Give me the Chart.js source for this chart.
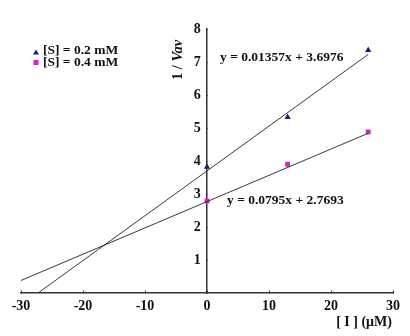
<!DOCTYPE html>
<html>
<head>
<meta charset="utf-8">
<script src="https://cdn.jsdelivr.net/npm/chart.js@4.4.0/dist/chart.umd.min.js"></script>
<style>
  html, body { margin: 0; padding: 0; background: #fff; }
  #wrap { width: 410px; height: 336px; }
</style>
</head>
<body>
<div id="wrap"><canvas id="lbChart"></canvas></div>
<script>
// inhibitor concentration [I] (µM)
const inhibitor = [0, 13, 26];
// 1 / Vav for each substrate level
const s02 = [3.82, 5.33, 7.36];
const s04 = [2.79, 3.9, 4.88];
// ends of the fitted lines, as drawn
const fit02X = [-27.25, 26];
const fit02Y = [0, 7.23];
const fit04X = [-30, 26];
const fit04Y = [0.38, 4.84];
const xTicks = [-30, -20, -10, 0, 10, 20, 30];
const yTicks = [1, 2, 3, 4, 5, 6, 7, 8];

const serif = "'Liberation Serif', 'Times New Roman', serif";
const navy = "#1c1c78";
const magenta = "#d81cd0";

const toPoints = (xs, ys) => xs.map((x, i) => ({ x: x, y: ys[i] }));

const textPlugin = {
  id: "textPlugin",
  afterDraw(chart) {
    const ctx = chart.ctx;
    ctx.save();
    ctx.fillStyle = "#111";
    ctx.textBaseline = "middle";
    ctx.font = "bold 13.5px " + serif;

    // legend
    ctx.fillStyle = navy;
    ctx.beginPath();
    ctx.moveTo(36, 49.5);
    ctx.lineTo(39, 54.5);
    ctx.lineTo(33, 54.5);
    ctx.closePath();
    ctx.fill();
    ctx.fillStyle = magenta;
    ctx.fillRect(33.5, 60, 5, 5);
    ctx.fillStyle = "#111";
    ctx.textAlign = "left";
    ctx.fillText("[S] = 0.2 mM", 43, 51);
    ctx.fillText("[S] = 0.4 mM", 43, 63);

    // equations
    ctx.fillText("y = 0.01357x + 3.6976", 220, 58);
    ctx.fillText("y = 0.0795x + 2.7693", 227, 201);

    // axis titles
    ctx.font = "bold 14px " + serif;
    ctx.textAlign = "center";
    ctx.fillText("[ I ] (\u03bcM)", 364, 322);

    ctx.translate(178, 80);
    ctx.rotate(-Math.PI / 2);
    ctx.textAlign = "left";
    ctx.font = "bold 14.5px " + serif;
    const a = "1 / ";
    ctx.fillText(a, 0, 0);
    const w = ctx.measureText(a).width;
    ctx.font = "italic bold 14.5px " + serif;
    ctx.fillText("Vav", w, 0);
    ctx.restore();
  },
};

const ctx = document.getElementById("lbChart").getContext("2d");

const lbChart = new Chart(ctx, {
  type: "scatter",
  data: {
    datasets: [
      {
        label: "fit 0.2",
        data: toPoints(fit02X, fit02Y),
        showLine: true,
        borderColor: "#222",
        borderWidth: 0.9,
        pointRadius: 0,
      },
      {
        label: "fit 0.4",
        data: toPoints(fit04X, fit04Y),
        showLine: true,
        borderColor: "#222",
        borderWidth: 0.9,
        pointRadius: 0,
      },
      {
        label: "[S] = 0.2 mM",
        data: toPoints(inhibitor, s02),
        pointStyle: "triangle",
        pointRadius: 3.6,
        backgroundColor: navy,
        borderColor: navy,
        borderWidth: 0,
      },
      {
        label: "[S] = 0.4 mM",
        data: toPoints(inhibitor, s04),
        pointStyle: "rect",
        pointRadius: 3.4,
        backgroundColor: magenta,
        borderColor: magenta,
        borderWidth: 0,
      },
    ],
  },
  options: {
    responsive: true,
    maintainAspectRatio: false,
    animation: false,
    layout: {
      padding: { left: 21, right: 17, top: 29, bottom: 43 },
    },
    scales: {
      x: {
        type: "linear",
        min: -30,
        max: 30,
        position: { y: 0 },
        afterFit: (scale) => {
          scale.height = 0;
        },
        afterBuildTicks: (scale) => {
          scale.ticks = xTicks.map((v) => ({ value: v }));
        },
        border: { display: true, color: "#333", width: 1.5 },
        grid: { drawOnChartArea: false, drawTicks: true, tickLength: -3, color: "#333" },
        ticks: {
          color: "#111",
          font: { family: serif, size: 14, weight: "bold" },
          padding: 8,
          maxRotation: 0,
        },
      },
      y: {
        type: "linear",
        min: 0,
        max: 8,
        position: { x: 0 },
        afterFit: (scale) => {
          scale.width = 0;
        },
        afterBuildTicks: (scale) => {
          scale.ticks = yTicks.map((v) => ({ value: v }));
        },
        border: { display: true, color: "#333", width: 1.5 },
        grid: { drawOnChartArea: false, drawTicks: true, tickLength: -2, color: "#777" },
        ticks: {
          color: "#111",
          font: { family: serif, size: 14, weight: "bold" },
          // labels sit right on the axis here, so push them left a little
          callback: (v) => v + " \u2009",
        },
      },
    },
    plugins: {
      legend: { display: false },
      tooltip: { enabled: false },
    },
  },
  plugins: [textPlugin],
});
</script>
</body>
</html>
